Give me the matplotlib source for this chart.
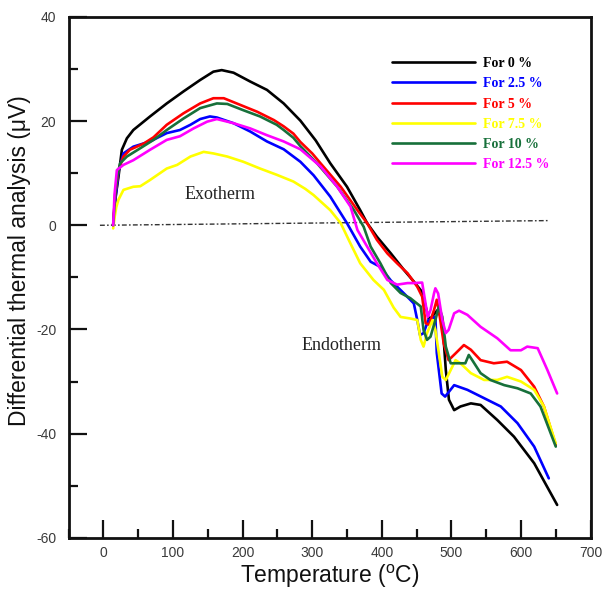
import matplotlib
matplotlib.use("Agg")
import matplotlib.pyplot as plt
from matplotlib.ticker import MultipleLocator

plt.rcParams["axes.unicode_minus"] = False

# DTA curves: temperature (°C) and signal (µV) for each addition level
t_0 = [14, 17, 21.6, 26.5, 33.7, 43, 67, 91, 115, 139, 158, 170, 187, 211, 235, 259, 283, 305, 326, 350,
       369, 379, 393, 413, 432, 446, 458, 463, 468, 480, 487, 492, 496.5, 504, 513, 528, 542, 566, 590, 619, 652]
v_0 = [0, 5, 9.3, 14.5, 16.7, 18.3, 20.9, 23.4, 25.7, 27.9, 29.5, 29.8, 29.3, 27.6, 26.0, 23.4, 20.1, 16.3, 11.9, 7.4,
       2.9, 0.4, -2.2, -5.4, -8.6, -10.8, -12.8, -15.6, -18.2, -16.3, -18.2, -27.8, -33.5, -35.5, -34.8, -34.2, -34.5,
       -37.4, -40.6, -45.7, -53.7]

t_25 = [14, 18, 22, 28.8, 43, 67, 91, 110, 125, 139, 153, 163, 187, 211, 235, 259, 283, 302, 326, 350, 369, 384,
        398, 413, 432, 446, 451, 455, 460, 467, 477, 479, 486, 491, 504, 523, 547, 571, 595, 619, 640]
v_25 = [0, 6, 10.5, 13.8, 15.1, 16.1, 17.7, 18.3, 19.3, 20.4, 20.9, 20.7, 19.6, 18.0, 16.1, 14.6, 12.2, 9.6, 5.5,
        0.4, -4.1, -7.0, -8.0, -10.6, -13.1, -15.0, -18.2, -21.1, -20.7, -18.2, -17.6, -24.5, -32.3, -32.9, -30.7,
        -31.6, -33.2, -34.8, -38.0, -42.5, -48.6]

t_5 = [14, 17, 21.6, 28.8, 38, 58, 72, 91, 115, 139, 158, 173, 197, 221, 245, 259, 273, 283, 300, 312, 341, 365,
       379, 393, 408, 422, 437, 451, 458, 463, 468, 475, 479, 482, 489, 496, 506, 518, 528, 542, 561, 580, 600, 619,
       633, 650]
v_5 = [0, 6, 10.6, 13.2, 14.5, 15.7, 16.9, 19.3, 21.5, 23.4, 24.4, 24.4, 23.1, 21.8, 20.2, 19.0, 17.6, 16.0, 13.8,
       11.9, 7.4, 2.9, 0.4, -2.8, -5.4, -7.3, -9.2, -11.8, -13.7, -18.8, -19.1, -16.3, -14.3, -16.3, -22.7, -25.9,
       -24.6, -23.0, -23.9, -25.9, -26.5, -26.2, -27.8, -31.0, -34.8, -42.2]

t_75 = [14, 16, 18.5, 21.6, 28.8, 43, 53, 67, 91, 106, 125, 144, 158, 178, 201, 225, 249, 273, 290, 302, 326, 341,
        355, 369, 388, 403, 417, 427, 441, 451, 456, 460, 465, 473, 477, 482, 487, 492, 499, 506, 513, 528, 547, 566,
        580, 600, 619, 633, 650]
v_75 = [-0.6, 1.5, 3.5, 4.9, 6.8, 7.4, 7.5, 8.7, 10.9, 11.6, 13.2, 14.1, 13.8, 13.2, 12.2, 10.9, 9.7, 8.4, 7.0, 5.8,
        2.9, 0.4, -3.5, -7.3, -10.5, -12.4, -15.8, -17.6, -17.9, -18.2, -22.0, -23.3, -20.7, -18.2, -20.1, -24.6,
        -29.1, -29.7, -27.8, -25.9, -26.5, -28.4, -29.7, -29.7, -29.1, -30.0, -31.6, -34.8, -41.9]

t_10 = [14, 17, 20, 24, 33.7, 53, 72, 91, 115, 139, 163, 178, 201, 225, 249, 259, 273, 283, 307, 336, 360, 374,
        384, 398, 413, 427, 441, 456, 460, 465, 470, 477, 482, 487, 492, 499, 511, 520, 525, 530, 542, 556, 576, 595,
        614, 628, 650]
v_10 = [0, 6, 9.5, 11.9, 13.2, 14.8, 16.4, 18.3, 20.5, 22.5, 23.4, 23.3, 22.1, 20.9, 19.3, 18.3, 16.8, 15.2, 11.9,
        7.4, 2.9, -0.3, -4.1, -7.3, -11.1, -13.0, -14.0, -15.6, -20.1, -22.0, -21.4, -18.2, -15.6, -17.6, -23.3,
        -26.5, -26.5, -26.5, -24.9, -25.9, -28.4, -29.7, -30.7, -31.3, -32.3, -34.8, -42.5]

t_125 = [14, 16, 19.3, 28.8, 43, 67, 91, 110, 129.5, 149, 163, 187, 211, 235, 259, 283, 312, 336, 355, 365, 379,
         393, 408, 422, 437, 446, 458, 462, 466, 470, 475, 477, 481, 487, 492, 496, 504, 511, 523, 542, 566, 585, 600,
         609, 624, 638, 652]
v_125 = [0, 6, 10.6, 11.6, 12.5, 14.5, 16.4, 17.1, 18.6, 19.9, 20.4, 19.6, 18.6, 17.3, 16.1, 14.6, 11.3, 7.4, 3.6,
         -0.9, -4.1, -7.3, -10.5, -11.4, -11.1, -11.1, -11.0, -14.3, -17.6, -16.3, -13.1, -12.1, -13.1, -18.2, -20.7,
         -20.1, -16.9, -16.4, -17.2, -19.5, -21.7, -24.0, -24.0, -23.3, -23.6, -27.8, -32.3]

labels = ["For 0 %", "For 2.5 %", "For 5 %", "For 7.5 %", "For 10 %", "For 12.5 %"]
colors = ["#000000", "#0000ff", "#ff0000", "#ffff00", "#17703a", "#ff00ff"]
series = [(t_0, v_0), (t_25, v_25), (t_5, v_5), (t_75, v_75), (t_10, v_10), (t_125, v_125)]

# baseline
base_t = [-5, 640]
base_v = [0, 0.9]

fig = plt.figure(figsize=(6.02, 5.90), dpi=100)
ax = fig.add_axes([0.114, 0.0886, 0.867, 0.8826])

ax.plot(base_t, base_v, color="#333333", lw=1.0, dashes=(3.5, 1.6, 1.2, 1.6))
for (t, v), lab, col in zip(series, labels, colors):
    ax.plot(t, v, color=col, lw=1.9, label=lab, solid_joinstyle="round", solid_capstyle="round")

ax.set_xlim(-50, 700)
ax.set_ylim(-60, 40)
ax.xaxis.set_major_locator(MultipleLocator(100))
ax.xaxis.set_minor_locator(MultipleLocator(50))
ax.yaxis.set_major_locator(MultipleLocator(20))
ax.yaxis.set_minor_locator(MultipleLocator(10))
ax.tick_params(which="both", direction="in", top=False, right=False, width=1.6, color="#111111")
ax.tick_params(which="major", length=13)
ax.tick_params(which="minor", length=6.5)
ax.tick_params(axis="x", which="major", pad=6)
ax.tick_params(axis="y", which="major", pad=9)
for lbl in ax.get_xticklabels() + ax.get_yticklabels():
    lbl.set_fontfamily("Liberation Sans")
    lbl.set_fontsize(10)
    lbl.set_color("#3a3a3a")
for sp in ax.spines.values():
    sp.set_linewidth(2.0)
    sp.set_color("#111111")

ax.set_xlabel("Temperature ($\\mathregular{^{o}}$C)", fontfamily="Liberation Sans", fontsize=16.5, color="#111111")
ax.set_ylabel("Differential thermal analysis (\u03bcV)", fontfamily="Liberation Sans", fontsize=16.5,
              color="#111111")
ax.xaxis.set_label_coords(0.5, -0.048)
ax.yaxis.set_label_coords(-0.072, 0.533)

ax.text(168, 6, "Exotherm", fontfamily="Liberation Serif", fontsize=13, color="#222222",
        ha="center", va="center")
ax.text(342, -23, "Endotherm", fontfamily="Liberation Serif", fontsize=13, color="#222222",
        ha="center", va="center")

leg = ax.legend(loc="upper left", bbox_to_anchor=(0.619, 0.923), frameon=False, borderpad=0, borderaxespad=0,
                handlelength=6.0, handletextpad=0.6, labelspacing=0.52, labelcolor="linecolor",
                prop={"family": "Liberation Serif", "weight": "bold", "size": 10})

fig.savefig("out.png", dpi=100)
